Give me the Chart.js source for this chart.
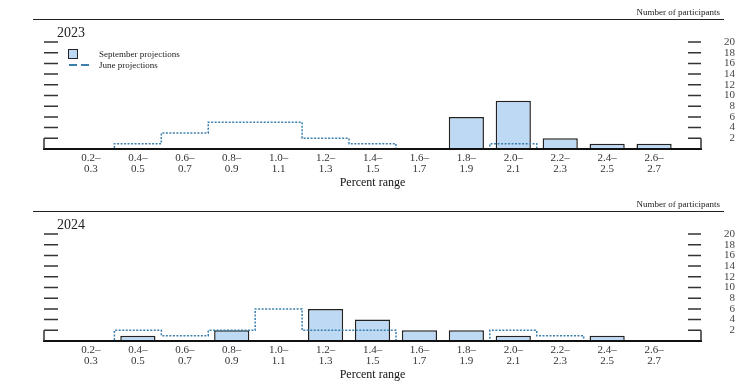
<!DOCTYPE html>
<html><head><meta charset="utf-8">
<script src="https://cdn.jsdelivr.net/npm/chart.js@4.4.1/dist/chart.umd.min.js"></script>
<style>
html,body{margin:0;padding:0;background:#fff;}
#wrap{position:relative;width:752px;height:389px;overflow:hidden;font-family:'Liberation Serif','DejaVu Serif',serif;color:#222;}
.panel{position:absolute;left:0;width:752px;}
.panel canvas{position:absolute;left:0;top:0;}
.rule{position:absolute;left:33px;width:691px;top:19px;height:0;border-top:1.5px solid #222;}
.npart{position:absolute;right:32px;top:8px;font-size:9px;line-height:9px;white-space:nowrap;}
.year{position:absolute;left:57px;top:26px;font-size:14px;line-height:14px;}
.lg{position:absolute;left:99px;font-size:9px;line-height:9px;white-space:nowrap;}
.sq{position:absolute;left:68px;top:49px;width:8px;height:8px;border:1.5px solid #222;background:#bdd9f3;}
.dash{position:absolute;top:64px;height:2px;background:#3b7fae;}
</style>
</head><body>
<div id="wrap">
  <div class="panel" id="p0" style="top:0;height:192px;">
    <canvas id="c0" width="752" height="192"></canvas>
    <div class="rule"></div>
    <div class="npart" id="np0"></div>
    <div class="year" id="yr0"></div>
    <div class="sq"></div>
    <div class="lg" id="lg0" style="top:50px;"></div>
    <div class="dash" style="left:69px;width:8px;"></div>
    <div class="dash" style="left:81px;width:8px;"></div>
    <div class="lg" id="lg1" style="top:61px;"></div>
  </div>
  <div class="panel" id="p1" style="top:192px;height:197px;">
    <canvas id="c1" width="752" height="197"></canvas>
    <div class="rule"></div>
    <div class="npart" id="np1"></div>
    <div class="year" id="yr1"></div>
  </div>
</div>
<script>
const categories = ['0.2–0.3','0.4–0.5','0.6–0.7','0.8–0.9','1.0–1.1','1.2–1.3','1.4–1.5','1.6–1.7','1.8–1.9','2.0–2.1','2.2–2.3','2.4–2.5','2.6–2.7'];
const sep2023 = [0,0,0,0,0,0,0,0,6,9,2,1,1];
const jun2023 = [0,1,3,5,5,2,1,0,0,1,0,0,0];
const sep2024 = [0,1,0,2,0,6,4,2,2,1,0,1,0];
const jun2024 = [0,2,1,2,6,2,2,0,0,2,1,0,0];
const yTicks = [2,4,6,8,10,12,14,16,18,20];
const yearLabels = ['2023','2024'];
const seriesNames = ['September projections','June projections'];
const xTitle = 'Percent range';
const yTitle = 'Number of participants';

const FONT = "'Liberation Serif','DejaVu Serif',serif";
Chart.defaults.font.family = FONT;
Chart.defaults.color = '#333';

document.getElementById('lg0').textContent = seriesNames[0];
document.getElementById('lg1').textContent = seriesNames[1];

const frameTicks = {
  id: 'frameTicks',
  afterDraw(chart) {
    const {ctx, chartArea: {left, right}, scales: {y}} = chart;
    ctx.save();
    ctx.strokeStyle = '#333';
    ctx.lineWidth = 1.5;
    ctx.beginPath();
    yTicks.forEach(v => {
      const py = y.getPixelForValue(v);
      ctx.moveTo(left, py); ctx.lineTo(left + 14, py);
      ctx.moveTo(right - 13, py); ctx.lineTo(right, py);
    });
    const p2 = y.getPixelForValue(yTicks[0]), p0 = y.getPixelForValue(0);
    ctx.moveTo(left, p2); ctx.lineTo(left, p0);
    ctx.moveTo(right, p2); ctx.lineTo(right, p0);
    ctx.stroke();
    ctx.restore();
  }
};

function makeChart(idx, sep, jun, bottomPad) {
  document.getElementById('np' + idx).textContent = yTitle;
  document.getElementById('yr' + idx).textContent = yearLabels[idx];
  return new Chart(document.getElementById('c' + idx), {
    type: 'bar',
    data: {
      datasets: [
        {
          type: 'line',
          label: seriesNames[1],
          data: jun.map((v, i) => ({x: i, y: v})),
          stepped: 'middle',
          borderColor: '#3b7fae',
          borderWidth: 1.5,
          borderDash: [2, 1.5],
          pointRadius: 0,
          fill: false,
          order: 0
        },
        {
          type: 'bar',
          label: seriesNames[0],
          data: sep.map((v, i) => ({x: i, y: v === 0 ? null : v})),
          backgroundColor: '#bdd9f3',
          borderColor: '#222',
          borderWidth: 1.5,
          barPercentage: 1,
          categoryPercentage: 0.75,
          order: 1
        }
      ]
    },
    options: {
      responsive: false,
      animation: false,
      events: [],
      layout: {padding: {left: 44, right: 17, top: 42, bottom: bottomPad}},
      plugins: {legend: {display: false}, tooltip: {enabled: false}},
      scales: {
        x: {
          type: 'linear',
          min: -1, max: 13,
          offset: false,
          grid: {display: false, drawTicks: false},
          border: {display: true, color: '#111', width: 2, z: 2},
          afterBuildTicks: s => { s.ticks = categories.map((c, i) => ({value: i})); },
          afterFit: s => { s.height = 43; },
          ticks: {
            autoSkip: false, maxRotation: 0,
            padding: 3.5,
            color: '#333',
            font: {size: 11, lineHeight: 1.0},
            callback: v => { const c = categories[v]; if (!c) return ''; const p = c.split('–'); return [p[0] + '–', p[1]]; }
          },
          title: {display: true, text: xTitle, color: '#111', font: {size: 12, lineHeight: 1.2}, padding: {top: 0, bottom: 2}}
        },
        y: {
          position: 'right',
          min: 0, max: 20,
          grid: {display: false, drawTicks: false},
          border: {display: false},
          afterBuildTicks: s => { s.ticks = yTicks.map(v => ({value: v})); },
          afterFit: s => { s.width = 34; },
          ticks: {autoSkip: false, crossAlign: 'far', padding: 6, color: '#444', font: {size: 11}}
        }
      }
    },
    plugins: [frameTicks]
  });
}

makeChart(0, sep2023, jun2023, 0);
makeChart(1, sep2024, jun2024, 5);
</script>
</body></html>
